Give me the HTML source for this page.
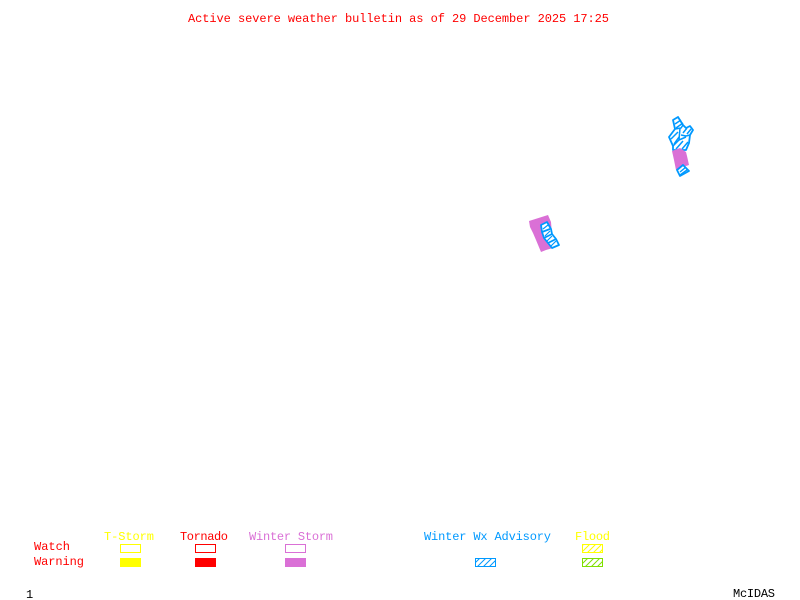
<!DOCTYPE html>
<html><head><meta charset="utf-8"><style>
html,body{margin:0;padding:0;background:#fff;width:800px;height:600px;overflow:hidden}
svg{display:block}
text{font-family:"Liberation Mono",monospace;font-size:12px;stroke-width:0}
</style></head><body>
<svg width="800" height="600" viewBox="0 0 800 600" xmlns="http://www.w3.org/2000/svg">
<defs>
<pattern id="hy" width="6" height="6" patternUnits="userSpaceOnUse"><rect width="6" height="6" fill="#fff"/><path d="M0 6L6 0M-1 1L1 -1M5 7L7 5" stroke="#ffff00" stroke-width="1"/></pattern>
<pattern id="hg" width="6" height="6" patternUnits="userSpaceOnUse"><rect width="6" height="6" fill="#fff"/><path d="M0 6L6 0M-1 1L1 -1M5 7L7 5" stroke="#7fe000" stroke-width="1"/></pattern>
<pattern id="hl" width="6" height="6" patternUnits="userSpaceOnUse"><rect width="6" height="6" fill="#fff"/><path d="M0 6L6 0M-1 1L1 -1M5 7L7 5" stroke="#0099ff" stroke-width="1"/></pattern>
</defs>
<text x="188" y="22" fill="#f00" textLength="421">Active severe weather bulletin as of 29 December 2025 17:25</text>

<!-- top right cluster -->
<g stroke="#0099ff" stroke-width="1.8" fill="#fff" stroke-linejoin="round">
<polygon points="678,117 673,120 675,129 669,137 673,146 673,150 686,150 689,143 690,135 693,130 690,126 686,128 683,125"/>
<path d="M675,129L681,128L683,125M680,128L679,140L673,146M681,135L686,136L690,135M679,140L686,137M675,124L681,120M676,128L683,123M671,139L678,132M674,144L679,137M683,133L687,128M687,134L691,129M676,149L683,141M682,149L688,142" fill="none" stroke-width="1.5"/>
</g>
<polygon points="672,151 680,148 686,152 687,156 689,165 683,167 676,170 674,160" fill="#da70d6"/>
<g stroke="#0099ff" stroke-width="1.8" fill="#fff" stroke-linejoin="round">
<polygon points="683,165 689,171 680,176 677,170"/>
<path d="M680,172L686,167M680,175L687,170" fill="none" stroke-width="1.4"/>
</g>

<!-- middle cluster -->
<polygon points="529,221 548,215 551,222 553,248 546,250 541,252 536,240 533,233 530,227" fill="#da70d6"/>
<g stroke="#0099ff" stroke-width="1.8" fill="#fff" stroke-linejoin="round">
<polygon points="541,225 547,222 551,229 552,234 556,239 559,245 552,248 548,243 544,238 542,232"/>
<path d="M542,232L550,229M544,238L552,234M548,243L556,239" fill="none"/>
<path d="M543,229L548,225M545,236L550,231M547,241L552,236M551,246L556,241" fill="none" stroke-width="1.2"/>
</g>

<!-- legend -->
<g>
<text x="104" y="540" fill="#ff0" textLength="50">T-Storm</text>
<text x="180" y="540" fill="#f00" textLength="48">Tornado</text>
<text x="249" y="540" fill="#da70d6" textLength="84">Winter Storm</text>
<text x="424" y="540" fill="#0099ff" textLength="127">Winter Wx Advisory</text>
<text x="575" y="540" fill="#ff0" textLength="35">Flood</text>
<text x="34" y="550" fill="#f00" textLength="36">Watch</text>
<text x="34" y="565" fill="#f00" textLength="50">Warning</text>
<text x="26" y="598" fill="#000">1</text>
<text x="733" y="597" fill="#000" textLength="42">McIDAS</text>
</g>
<g shape-rendering="crispEdges" fill="#fff" stroke-width="1">
<rect x="120.5" y="544.5" width="20" height="8" stroke="#ff0"/>
<rect x="195.5" y="544.5" width="20" height="8" stroke="#f00"/>
<rect x="285.5" y="544.5" width="20" height="8" stroke="#da70d6"/>
<rect x="120" y="558" width="21" height="9" fill="#ff0"/>
<rect x="195" y="558" width="21" height="9" fill="#f00"/>
<rect x="285" y="558" width="21" height="9" fill="#da70d6"/>
</g>
<g stroke-width="1">
<rect x="475.5" y="558.5" width="20" height="8" fill="url(#hl)" stroke="#0099ff"/>
<rect x="582.5" y="544.5" width="20" height="8" fill="url(#hy)" stroke="#ff0"/>
<rect x="582.5" y="558.5" width="20" height="8" fill="url(#hg)" stroke="#7fe000"/>
</g>
</svg>
</body></html>
